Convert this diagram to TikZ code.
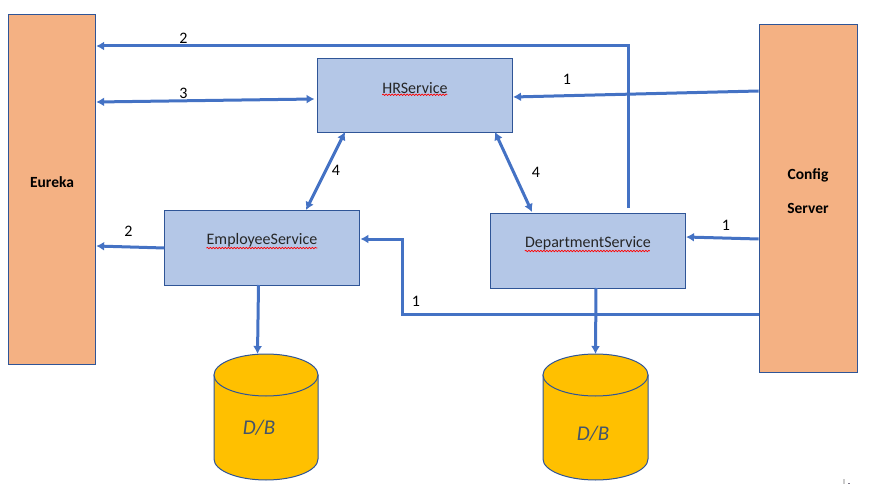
\documentclass[tikz,border=0pt]{standalone}
\usepackage{fontspec}
\setmainfont{Carlito}
\usetikzlibrary{arrows.meta,calc,decorations.pathmorphing}
\definecolor{orangebox}{HTML}{F4B183}
\definecolor{bluebox}{HTML}{B4C7E7}
\definecolor{edgeblue}{HTML}{2F5597}
\definecolor{arrowblue}{HTML}{4472C4}
\definecolor{dbfill}{HTML}{FFC000}
\definecolor{textgrey}{HTML}{44546A}
\tikzset{
  sidebox/.style={draw=edgeblue,fill=orangebox,line width=1pt,minimum width=#1,inner sep=0pt},
  sidebox/.default=88pt,
  svcbox/.style={draw=edgeblue,fill=bluebox,line width=1pt,minimum width=195pt,inner sep=0pt},
  conn/.style={draw=arrowblue,line width=3pt,-{Latex[length=8pt,width=9pt]}},
  biconn/.style={draw=arrowblue,line width=3pt,{Latex[length=8pt,width=9pt]}-{Latex[length=8pt,width=9pt]}},
  numlabel/.style={font=\fontsize{16}{18}\selectfont,text=black,inner sep=0pt},
  svclabel/.style={font=\fontsize{16}{18}\selectfont,text=black!85,inner sep=0pt},
  sidelabel/.style={font=\fontsize{15.5}{18}\selectfont\bfseries,text=black,inner sep=0pt},
  dblabel/.style={font=\fontsize{21}{24}\selectfont\itshape,text=textgrey,inner sep=0pt},
  squiggle/.style={draw=red,line width=0.7pt,decorate,decoration={snake,amplitude=0.7pt,segment length=3pt}},
  dbedge/.style={draw=edgeblue,line width=1pt,fill=dbfill}
}
\newcommand{\dbcyl}[3]{% left x, right x, name
  \path[dbedge] (#1,375) -- (#1,459) arc[start angle=180,end angle=0,x radius={(#2-#1)/2},y radius=21]
     -- (#2,375) -- cycle;
  \path[dbedge] ({(#1+#2)/2},375) ellipse[x radius={(#2-#1)/2},y radius=21];
  \coordinate (#3) at ({(#1+#2)/2},354);
}
\begin{document}
\begin{tikzpicture}[x=1pt,y=-1pt]
\useasboundingbox (0,0) rectangle (876,492);
\node[sidebox=87.5pt,minimum height=350pt] (eureka) at (51.9,189.5) {};
\node[sidebox=98.5pt,minimum height=348pt] (config) at (808.4,198.5) {};
\node[svcbox,minimum width=195.5pt,minimum height=74pt] (hr) at (414.8,95.5) {};
\node[svcbox,minimum height=75pt] (emp) at (262.4,247.5) {};
\node[svcbox,minimum width=195.5pt,minimum height=75pt] (dept) at (587.8,250.5) {};
\dbcyl{214}{318}{dba}
\dbcyl{543}{648}{dbb}
% box labels
\node[sidelabel] (eurekaT) at (52,182) {Eureka};
\node[sidelabel] (configT) at (808,175) {Config};
\node[sidelabel] (serverT) at (808,208) {Server};
\node[svclabel] (hrT) at (415,88) {HRService};
\node[svclabel] (empT) at (262,240) {EmployeeService};
\node[svclabel] (deptT) at (588,243) {DepartmentService};
\draw[squiggle] (hrT.south west)++(0,1) -- ++(65,0);
\draw[squiggle] (empT.south west)++(0,1) -- ++(111,0);
\draw[squiggle] (deptT.south west)++(0,1) -- ++(125,0);
\node[dblabel] (dbaT) at (259,428) {D/B};
\node[dblabel] (dbbT) at (593,434) {D/B};
% connectors
\coordinate (deptTop) at (628,208);
\coordinate (dbaIn) at (257.5,354);
\draw[conn] (deptTop) -- (628,46) -- (eureka.east |- 0,46);
\draw[biconn] (eureka.east |- 0,102) -- ([xshift=-2pt]hr.west |- 0,99);
\draw[conn] (config.west |- 0,91) -- (hr.east |- 0,97);
\draw[biconn] (345,132) -- (306,210);
\draw[biconn] (495,132) -- (532,212);
\draw[conn] (emp.west |- 0,248) -- (eureka.east |- 0,246);
\draw[conn] (config.west |- 0,239) -- (dept.east |- 0,237);
\draw[conn] (config.west |- 0,314) -- (402,314) -- (402,239) -- (emp.east |- 0,239);
\draw[conn] (258.5,285) -- (dbaIn);
\draw[conn] (596,288) -- (dbb);
% numbers
\node[numlabel] (n1) at (183.5,38) {2};
\node[numlabel] (n2) at (183.5,93) {3};
\node[numlabel] (n3) at (567,79) {1};
\node[numlabel] (n4) at (336,170.5) {4};
\node[numlabel] (n5) at (536,172) {4};
\node[numlabel] (n6) at (128.5,231) {2};
\node[numlabel] (n7) at (726,225) {1};
\node[numlabel] (n8) at (416,301) {1};
% tiny marks at the lower right
\fill[black!20] (842.5,479) rectangle (844.5,484);
\fill[arrowblue!70!orange] (848,483) rectangle (850,484);
\end{tikzpicture}
\end{document}
